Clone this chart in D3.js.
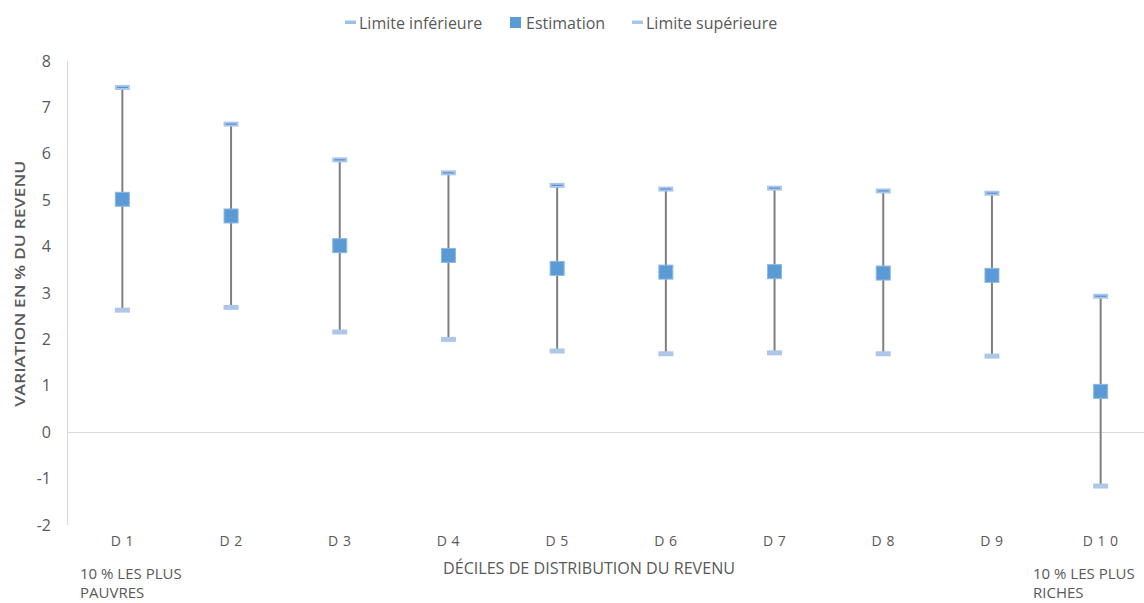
<!DOCTYPE html>
<html>
<head>
<meta charset="utf-8">
<script src="https://cdn.jsdelivr.net/npm/d3@7"></script>
<style>
  html, body { margin: 0; padding: 0; background: #fff; }
  svg { display: block; font-family: "Open Sans", "Liberation Sans", sans-serif; }
</style>
</head>
<body>
<svg id="chart" width="1144" height="603"></svg>
<script>
// Deciles of the income distribution
const categories = ["D 1", "D 2", "D 3", "D 4", "D 5", "D 6", "D 7", "D 8", "D 9", "D 1 0"];
// Estimated change (% of income) with its lower and upper bounds
const estimation = [5.02, 4.66, 4.02, 3.81, 3.53, 3.45, 3.46, 3.43, 3.38, 0.88];
const limiteInf  = [2.63, 2.69, 2.16, 2.00, 1.75, 1.69, 1.71, 1.69, 1.64, -1.16];
const limiteSup  = [7.43, 6.64, 5.87, 5.59, 5.32, 5.24, 5.26, 5.20, 5.15, 2.93];
const yTicks = [-2, -1, 0, 1, 2, 3, 4, 5, 6, 7, 8];
const legendLabels = ["Limite inférieure", "Estimation", "Limite supérieure"];

const svg = d3.select("#chart");
const textColor = "#595959";

const x = d3.scaleBand().domain(categories).range([68, 1155]);
const y = d3.scaleLinear().domain([-2, 8]).range([525, 61]);
const cx = c => x(c) + x.bandwidth() / 2;

// Y axis line
svg.append("line")
  .attr("x1", 67.5).attr("x2", 67.5)
  .attr("y1", y(8)).attr("y2", y(-2))
  .attr("stroke", "#d9d9d9").attr("stroke-width", 1);

// Zero baseline
svg.append("line")
  .attr("x1", 67).attr("x2", 1144)
  .attr("y1", Math.round(y(0)) + 0.5).attr("y2", Math.round(y(0)) + 0.5)
  .attr("stroke", "#d9d9d9").attr("stroke-width", 1);

// Y tick labels
svg.append("g").selectAll("text")
  .data(yTicks).join("text")
  .attr("x", 51).attr("y", d => y(d))
  .attr("dy", "0.35em")
  .attr("text-anchor", "end")
  .attr("fill", textColor)
  .attr("font-size", 16)
  .text(d => d);

// Y axis title
svg.append("text")
  .attr("transform", `translate(25, ${y(3.2)}) rotate(-90)`)
  .attr("text-anchor", "middle")
  .attr("fill", textColor)
  .attr("font-size", 15)
  .attr("font-weight", 600)
  .attr("textLength", 246)
  .attr("lengthAdjust", "spacingAndGlyphs")
  .text("VARIATION EN % DU REVENU");

// X category labels
svg.append("g").selectAll("text")
  .data(categories).join("text")
  .attr("x", d => cx(d)).attr("y", 541)
  .attr("dy", "0.35em")
  .attr("text-anchor", "middle")
  .attr("fill", textColor)
  .attr("font-size", 14)
  .attr("letter-spacing", 0.5)
  .text(d => d);

// X axis title
svg.append("text")
  .attr("x", 589).attr("y", 568)
  .attr("dy", "0.35em")
  .attr("text-anchor", "middle")
  .attr("fill", textColor)
  .attr("font-size", 16)
  .attr("textLength", 292)
  .attr("lengthAdjust", "spacingAndGlyphs")
  .text("DÉCILES DE DISTRIBUTION DU REVENU");

// End annotations
const note = (xPos, lines) => {
  lines.forEach((t, i) => {
    svg.append("text")
      .attr("x", xPos).attr("y", 574 + i * 19)
      .attr("dy", "0.35em")
      .attr("fill", textColor)
      .attr("font-size", 15)
      .text(t);
  });
};
note(80, ["10 % LES PLUS", "PAUVRES"]);
note(1033, ["10 % LES PLUS", "RICHES"]);

// High-low lines between bounds
const g = svg.append("g");
g.selectAll("line.hl")
  .data(categories).join("line")
  .attr("class", "hl")
  .attr("x1", d => cx(d)).attr("x2", d => cx(d))
  .attr("y1", (d, i) => y(limiteSup[i]))
  .attr("y2", (d, i) => y(limiteInf[i]))
  .attr("stroke", "#7f7f7f").attr("stroke-width", 2);

// Lower bound markers
g.selectAll("rect.inf")
  .data(categories).join("rect")
  .attr("class", "inf")
  .attr("x", d => cx(d) - 7.5).attr("y", (d, i) => y(limiteInf[i]) - 2.5)
  .attr("width", 15).attr("height", 5)
  .attr("fill", "#adc7e9");

// Upper bound markers
const sup = g.selectAll("g.sup")
  .data(categories).join("g")
  .attr("class", "sup")
  .attr("transform", (d, i) => `translate(${cx(d)}, ${y(limiteSup[i])})`);
sup.append("rect")
  .attr("x", -7.5).attr("y", -2.5).attr("width", 15).attr("height", 5)
  .attr("fill", "#a9c7eb");
sup.append("line")
  .attr("x1", -5.5).attr("x2", 5.5).attr("y1", 0).attr("y2", 0)
  .attr("stroke", "#5b8fcf").attr("stroke-width", 1.2);

// Estimate markers
g.selectAll("rect.est")
  .data(categories).join("rect")
  .attr("class", "est")
  .attr("x", d => cx(d) - 7).attr("y", (d, i) => y(estimation[i]) - 7)
  .attr("width", 14).attr("height", 14)
  .attr("fill", "#5b9bd5")
  .attr("stroke", "#8db7e4").attr("stroke-width", 1);

// Legend
const legend = svg.append("g");
const legendX = [345, 510, 632];
legendLabels.forEach((label, i) => {
  const lx = legendX[i];
  if (i === 1) {
    legend.append("rect")
      .attr("x", lx).attr("y", 17).attr("width", 11).attr("height", 11)
      .attr("fill", "#5b9bd5");
  } else {
    legend.append("rect")
      .attr("x", lx).attr("y", 20.5).attr("width", 11).attr("height", 3.5)
      .attr("fill", i === 0 ? "#9dc0e8" : "#a9c7eb");
  }
  legend.append("text")
    .attr("x", lx + (i === 1 ? 16 : 14)).attr("y", 23)
    .attr("dy", "0.35em")
    .attr("fill", textColor)
    .attr("font-size", 16)
    .text(label);
});
</script>
</body>
</html>
